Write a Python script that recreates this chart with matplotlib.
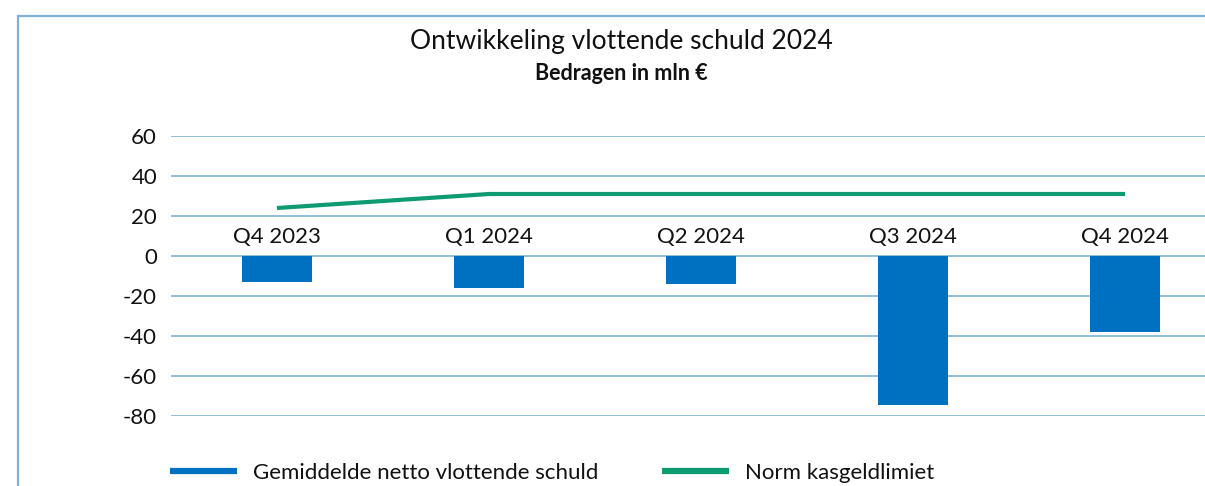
import matplotlib
matplotlib.use("Agg")
import matplotlib.pyplot as plt
from matplotlib.lines import Line2D
from matplotlib.patches import Rectangle
import numpy as np

plt.rcParams['font.family'] = ['Lato', 'DejaVu Sans']

# data
categories = ["Q4 2023", "Q1 2024", "Q2 2024", "Q3 2024", "Q4 2024"]
schuld = [-12.8, -15.8, -14.0, -74.5, -37.8]
kasgeldlimiet = [24, 31, 31, 31, 31]
yticks = [60, 40, 20, 0, -20, -40, -60, -80]

blue = "#0070C0"
green = "#0E9B72"
grid = "#7DB1DA"

W, H = 1205, 486
fig = plt.figure(figsize=(W / 100, H / 100), dpi=100)

# outer frame (cropped on right and bottom)
fig.patches.append(Rectangle((18 / W, -0.1), 1.2, 1 - 16 / H + 0.1, transform=fig.transFigure,
                             fill=False, edgecolor=grid, lw=1.6))

left, right = 171, 1231
top, bottom = 136, 416
ax = fig.add_axes([left / W, 1 - bottom / H, (right - left) / W, (bottom - top) / H])

x = np.arange(len(categories))
ax.bar(x, schuld, width=0.33, color=blue, zorder=3)
ax.plot(x, kasgeldlimiet, color=green, lw=3, zorder=4, solid_capstyle='butt')

ax.set_xlim(-0.5, len(categories) - 0.5)
ax.set_ylim(-80, 60)
ax.set_yticks(yticks)
ax.set_yticklabels([str(v) for v in yticks])
ax.tick_params(axis='y', length=0, pad=10, labelsize=16, labelcolor="#111111")
ax.set_xticks([])
ax.grid(axis='y', color=grid, lw=1.2, zorder=0)
for s in ax.spines.values():
    s.set_visible(False)

for i, c in enumerate(categories):
    ax.annotate(c, (i, 0), xytext=(0, 14), textcoords='offset points',
                ha='center', va='center', fontsize=16, color="#111111")

fig.text(621 / W, 1 - 42 / H, "Ontwikkeling vlottende schuld 2024", ha='center', va='center',
         fontsize=19, color="#111111")
fig.text(621 / W, 1 - 73 / H, "Bedragen in mln €", ha='center', va='center',
         fontsize=15.5, fontweight='bold', color="#111111")

handles = [Line2D([], [], color=blue, lw=4.5, solid_capstyle='butt'),
           Line2D([], [], color=green, lw=4.5, solid_capstyle='butt')]
fig.legend(handles, ["Gemiddelde netto vlottende schuld", "Norm kasgeldlimiet"],
           loc='center left', bbox_to_anchor=(170 / W, 1 - 473 / H), ncol=2, frameon=False,
           fontsize=16, handlelength=3.0, handletextpad=0.72, columnspacing=2.9, borderpad=0,
           borderaxespad=0, labelcolor="#111111")

fig.savefig("out.png", dpi=100)
